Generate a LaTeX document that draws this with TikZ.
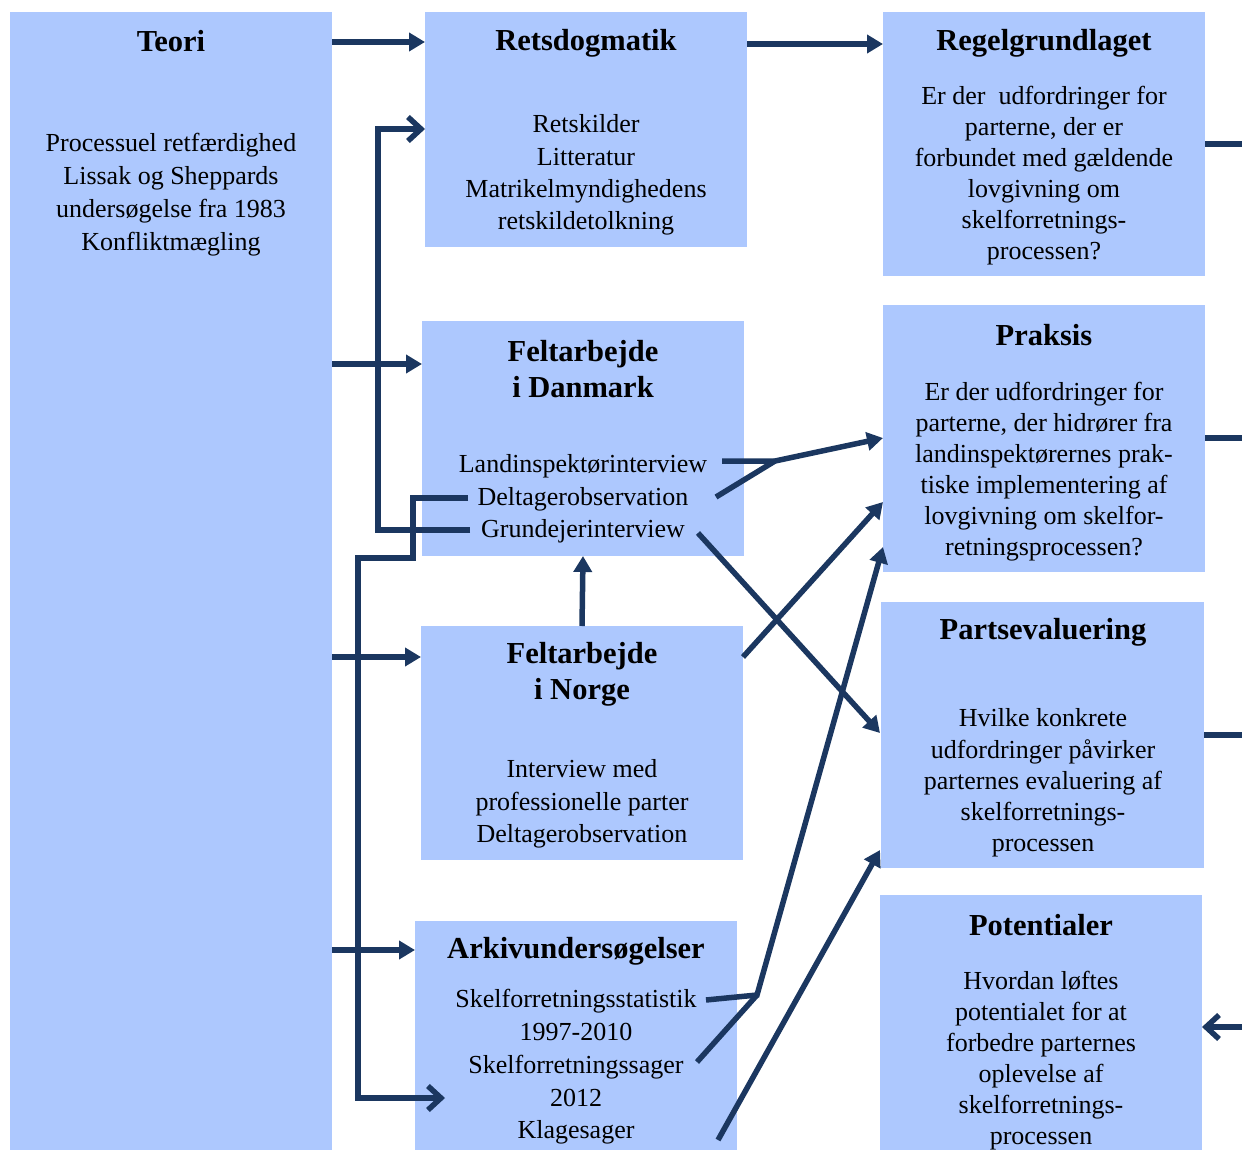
\documentclass[tikz,border=0pt]{standalone}
\usepackage{fontspec}
\setmainfont{Liberation Serif}
\usetikzlibrary{arrows.meta}
\definecolor{boxblue}{RGB}{173,200,254}
\definecolor{navy}{RGB}{27,55,96}
\tikzset{
  box/.style={fill=boxblue, draw=none, anchor=north west, inner sep=0pt, outer sep=0pt},
  ttl/.style={font=\fontsize{30.5}{36}\selectfont\bfseries, align=center, inner sep=0pt, text=black},
  body/.style={font=\fontsize{26}{#1}\selectfont, align=center, inner sep=0pt, text=black},
  body/.default=32,
  conn/.style={draw=navy, line width=5.5pt},
  tri/.style={conn, -{Triangle[length=16pt,width=18pt]}},
  barb/.style={conn, -{Straight Barb[length=13pt,width=24pt]}},
}
\begin{document}
\begin{tikzpicture}[x=1pt,y=-1pt]
\useasboundingbox (0,0) rectangle (1242,1150);
% boxes
\node[box, minimum width=322pt, minimum height=1138pt] (teori) at (10,12) {};
\node[box, minimum width=322pt, minimum height=235pt] (retsd) at (425,12) {};
\node[box, minimum width=322pt, minimum height=264pt] (regel) at (883,12) {};
\node[box, minimum width=322pt, minimum height=235pt] (dk) at (422,321) {};
\node[box, minimum width=322pt, minimum height=267pt] (praksis) at (883,305) {};
\node[box, minimum width=322pt, minimum height=234pt] (norge) at (421,626) {};
\node[box, minimum width=323pt, minimum height=266pt] (parts) at (881,602) {};
\node[box, minimum width=322pt, minimum height=229pt] (arkiv) at (415,921) {};
\node[box, minimum width=322pt, minimum height=255pt] (pot) at (880,895) {};
% texts
\node[ttl] (teoriT) at (171,41) {Teori};
\node[body=33] (teoriB) at (171,195) {Processuel retfærdighed\\Lissak og Sheppards\\undersøgelse fra 1983\\Konfliktmægling};
\node[ttl] (retsdT) at (586,43) {Retsdogmatik};
\node[body=32.3] (retsdB) at (586,175) {Retskilder\\Litteratur\\Matrikelmyndighedens\\retskildetolkning};
\node[ttl] (regelT) at (1044,43) {Regelgrundlaget};
\node[body=31] (regelB) at (1044,176) {Er der~ udfordringer for\\parterne, der er\\forbundet med gældende\\lovgivning om\\skelforretnings-\\processen?};
\node[ttl] (dkT) at (583,369) {Feltarbejde\\i Danmark};
\node[body=32.5] (dkB) at (583,499) {Landinspektørinterview\\Deltagerobservation\\Grundejerinterview};
\node[ttl] (praksisT) at (1044,335) {Praksis};
\node[body=31] (praksisB) at (1044,472) {Er der udfordringer for\\parterne, der hidrører fra\\landinspektørernes prak-\\tiske implementering af\\lovgivning om skelfor-\\retningsprocessen?};
\node[ttl] (norgeT) at (582,674) {Feltarbejde\\i Norge};
\node[body=32.5] (norgeB) at (582,804) {Interview med\\professionelle parter\\Deltagerobservation};
\node[ttl] (partsT) at (1043,632) {Partsevaluering};
\node[body=31.2] (partsB) at (1043,783) {Hvilke konkrete\\udfordringer påvirker\\parternes evaluering af\\skelforretnings-\\processen};
\node[ttl] (arkivT) at (576,951) {Arkivundersøgelser};
\node[body=32.75] (arkivB) at (576,1067) {Skelforretningsstatistik\\1997-2010\\Skelforretningssager\\2012\\Klagesager};
\node[ttl] (potT) at (1041,925) {Potentialer};
\node[body=31] (potB) at (1041,1061) {Hvordan løftes\\potentialet for at\\forbedre parternes\\oplevelse af\\skelforretnings-\\processen};
% coordinates for free ends
\coordinate (yA) at (0,42);
\coordinate (yB) at (0,44);
\coordinate (yC) at (0,364);
\coordinate (yD) at (0,657);
\coordinate (yE) at (0,950);
\coordinate (gl) at (470,530);
\coordinate (k1) at (378,129);
\coordinate (dl) at (468,498);
\coordinate (k2) at (413,558);
\coordinate (k3) at (358,1098);
\coordinate (arkIn) at (445,1098);
\coordinate (dkL1) at (722,461);
\coordinate (dkL2) at (716,497);
\coordinate (dkL3) at (698,533);
\coordinate (j1) at (775,461);
\coordinate (pk1) at (883,438);
\coordinate (pk2) at (883,502);
\coordinate (pk3) at (883,547);
\coordinate (pa1) at (880,733);
\coordinate (pa2) at (880,850);
\coordinate (ar1) at (706,1000);
\coordinate (ar2) at (697,1062);
\coordinate (ar3) at (718,1140);
\coordinate (j2) at (757,995);
\coordinate (e1) at (1242,144);
\coordinate (e2) at (1242,438);
\coordinate (e3) at (1242,735);
\coordinate (e4) at (1242,1027);
% connectors
\draw[tri] (teori.east |- yA) -- (retsd.west |- yA);
\draw[tri] (retsd.east |- yB) -- (regel.west |- yB);
\draw[tri] (teori.east |- yC) -- (dk.west |- yC);
\draw[tri] (teori.east |- yD) -- (norge.west |- yD);
\draw[tri] (teori.east |- yE) -- (arkiv.west |- yE);
\draw[barb] (gl) -| (k1) -- (retsd.west |- k1);
\draw[barb] (dl) -| (k2) -| (k3) -- (arkIn);
\draw[tri] (dkL1) -- (j1) -- (pk1);
\draw[conn] (dkL2) -- (j1);
\draw[tri] (dkL3) -- (pa1);
\draw[tri] (norge.north) -- (dk.south);
\draw[tri] (norge.east |- yD) -- (pk2);
\draw[tri] (ar1) -- (j2) -- (pk3);
\draw[conn] (ar2) -- (j2);
\draw[tri] (ar3) -- (pa2);
\draw[conn] (regel.east |- e1) -- (e1);
\draw[conn] (praksis.east |- e2) -- (e2);
\draw[conn] (parts.east |- e3) -- (e3);
\draw[barb] (e4) -- (pot.east |- e4);
\end{tikzpicture}
\end{document}
